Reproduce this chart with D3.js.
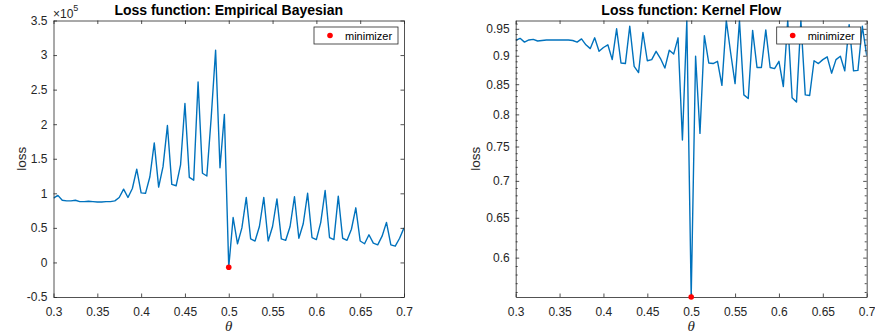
<!DOCTYPE html>
<html><head><meta charset="utf-8">
<script src="https://cdn.jsdelivr.net/npm/d3@7"></script>
<style>body{margin:0;background:#fff} svg{display:block}</style>
</head><body>
<svg id="c" width="875" height="334"></svg>
<script>
// ---- data ----
const theta = [0.3,0.305,0.31,0.315,0.32,0.325,0.33,0.335,0.34,0.345,0.35,0.355,0.36,0.365,0.37,0.375,0.38,0.385,0.39,0.395,
  0.4,0.405,0.41,0.415,0.42,0.425,0.43,0.435,0.44,0.445,0.45,0.455,0.46,0.465,0.47,0.475,0.48,0.485,0.49,0.495,
  0.5,0.505,0.51,0.515,0.52,0.525,0.53,0.535,0.54,0.545,0.55,0.555,0.56,0.565,0.57,0.575,0.58,0.585,0.59,0.595,
  0.6,0.605,0.61,0.615,0.62,0.625,0.63,0.635,0.64,0.645,0.65,0.655,0.66,0.665,0.67,0.675,0.68,0.685,0.69,0.695,0.7];
// Empirical Bayesian loss, in units of 1e5
const ebLoss = [0.93,0.97,0.90,0.89,0.89,0.90,0.88,0.88,0.885,0.88,0.875,0.875,0.88,0.88,0.89,0.94,1.06,0.94,1.07,1.35,
  1.006,1.0,1.24,1.73,1.09,1.385,1.98,1.13,1.11,1.41,2.30,1.23,1.19,2.61,1.29,1.25,2.1,3.07,1.37,2.14,
  -0.07,0.65,0.27,0.50,0.94,0.34,0.31,0.52,0.94,0.31,0.52,0.92,0.34,0.32,0.52,0.95,0.35,0.56,1.0,0.36,
  0.33,0.58,1.04,0.36,0.33,0.96,0.35,0.32,0.48,0.79,0.31,0.27,0.40,0.28,0.255,0.38,0.58,0.255,0.235,0.35,0.50];
// Kernel Flow loss
const kfLoss = [0.928,0.932,0.925,0.929,0.930,0.927,0.928,0.929,0.929,0.929,0.929,0.929,0.929,0.928,0.925,0.931,0.920,0.913,0.933,0.908,
  0.915,0.920,0.893,0.950,0.887,0.886,0.955,0.881,0.870,0.943,0.891,0.893,0.908,0.895,0.878,0.910,0.903,0.933,0.760,0.966,
  0.5544,0.899,0.770,0.937,0.887,0.886,0.890,0.848,0.966,0.905,0.851,0.966,0.832,0.826,0.947,0.879,0.879,0.948,0.879,0.877,
  0.890,0.846,0.966,0.827,0.820,0.966,0.832,0.831,0.891,0.886,0.893,0.898,0.869,0.893,0.899,0.873,0.958,0.873,0.874,0.955,0.90];
const xTicks = [0.3,0.35,0.4,0.45,0.5,0.55,0.6,0.65,0.7];
const ebTicks = [-0.5,0,0.5,1,1.5,2,2.5,3,3.5];
const kfTicks = [0.6,0.65,0.7,0.75,0.8,0.85,0.9,0.95];
const kfMinor = [0.56,0.57,0.58,0.59,0.61,0.62,0.63,0.64,0.66,0.67,0.68,0.69,0.71,0.72,0.73,0.74,0.76,0.77,0.78,0.79,0.81,0.82,0.83,0.84,0.86,0.87,0.88,0.89,0.91,0.92,0.93,0.94,0.96];
const ebMin = {x:0.5, y:-0.07};
const kfMin = {x:0.5, y:0.5544};

// ---- drawing ----
const svg = d3.select('#c');
const AX = '#262626', LINE = '#0072BD';
const FONT = 'Liberation Sans, Arial, Helvetica, sans-serif';

function panel(o) {
  const g = svg.append('g');
  const x = d3.scaleLinear().domain([0.3,0.7]).range([o.left, o.right]);
  const y = o.yScale.range([o.bottom, o.top]);
  const id = 'clip' + o.key;
  svg.append('clipPath').attr('id', id).append('rect')
    .attr('x', o.left).attr('y', o.top).attr('width', o.right-o.left).attr('height', o.bottom-o.top);

  // line
  g.append('path').datum(theta.map((t,i)=>[t,o.data[i]]))
    .attr('clip-path', `url(#${id})`)
    .attr('fill','none').attr('stroke', LINE).attr('stroke-width',1.4).attr('stroke-linejoin','round')
    .attr('d', d3.line().x(d=>x(d[0])).y(d=>y(d[1])));

  // axes
  const TL = 3.5;
  const styleAxis = sel => {
    sel.selectAll('.domain').attr('stroke', AX).attr('stroke-width',0.8);
    sel.selectAll('.tick line').attr('stroke', AX).attr('stroke-width',0.8);
    sel.selectAll('text').attr('fill', AX).attr('font-family', FONT).attr('font-size', 12);
  };
  const fmt = d => String(d);
  g.append('g').attr('transform',`translate(0,${o.bottom})`)
    .call(d3.axisBottom(x).tickValues(xTicks).tickSize(-TL).tickPadding(10).tickFormat(fmt).tickSizeOuter(0)).call(styleAxis);
  g.append('g').attr('transform',`translate(0,${o.top})`)
    .call(d3.axisTop(x).tickValues(xTicks).tickSize(-TL).tickFormat('').tickSizeOuter(0)).call(styleAxis);
  g.append('g').attr('transform',`translate(${o.left},0)`)
    .call(d3.axisLeft(y).tickValues(o.yTicks).tickSize(-TL).tickPadding(6).tickFormat(fmt).tickSizeOuter(0)).call(styleAxis);
  g.append('g').attr('transform',`translate(${o.right},0)`)
    .call(d3.axisRight(y).tickValues(o.yTicks).tickSize(-TL).tickFormat('').tickSizeOuter(0)).call(styleAxis);
  if (o.minor) {
    g.append('g').attr('transform',`translate(${o.left},0)`)
      .call(d3.axisLeft(y).tickValues(o.minor).tickSize(-2).tickFormat('').tickSizeOuter(0)).call(styleAxis)
      .select('.domain').remove();
    g.append('g').attr('transform',`translate(${o.right},0)`)
      .call(d3.axisRight(y).tickValues(o.minor).tickSize(-2).tickFormat('').tickSizeOuter(0)).call(styleAxis)
      .select('.domain').remove();
  }

  // title
  g.append('text').attr('x', (o.left+o.right)/2).attr('y', 15).attr('text-anchor','middle')
    .attr('font-family', FONT).attr('font-weight','bold').attr('font-size',14).attr('fill','#000').text(o.title);
  // y label
  g.append('text').attr('transform',`translate(${o.ylabX},${(o.top+o.bottom)/2}) rotate(-90)`)
    .attr('text-anchor','middle').attr('font-family', FONT).attr('font-size',13.5).attr('fill', AX).text('loss');
  // x label
  g.append('text').attr('x', (o.left+o.right)/2).attr('y', 331).attr('text-anchor','middle')
    .attr('font-family','Liberation Serif, DejaVu Serif, serif').attr('font-style','italic').attr('font-size',15).attr('fill', AX).text('θ');

  // minimizer
  g.append('circle').attr('cx', x(o.min.x)).attr('cy', y(o.min.y)).attr('r',2.8).attr('fill','#ff0000');

  // legend
  const lg = g.append('g').attr('transform',`translate(${o.right-90},${o.top+6.5})`);
  lg.append('rect').attr('x',0).attr('y',0).attr('width',84).attr('height',17)
    .attr('fill','#fff').attr('stroke', AX).attr('stroke-width',0.8);
  lg.append('circle').attr('cx',16).attr('cy',8.5).attr('r',2.8).attr('fill','#ff0000');
  lg.append('text').attr('x',31).attr('y',12.5).attr('font-family',FONT).attr('font-size',11).attr('fill','#000').text('minimizer');
  return {g, x, y};
}

const p1 = panel({key:'a', left:53.5, right:404, top:20.5, bottom:297, yScale:d3.scaleLinear().domain([-0.5,3.5]),
  data: ebLoss, yTicks: ebTicks, title:'Loss function: Empirical Bayesian', ylabX:26, min: ebMin});
// exponent label
const ex = p1.g.append('text').attr('x',53).attr('y',18).attr('font-family',FONT).attr('font-size',12).attr('fill',AX);
ex.append('tspan').text('×10');
ex.append('tspan').attr('dy',-7).attr('font-size',9).text('5');

panel({key:'b', left:515.7, right:866.7, top:20.5, bottom:297, yScale:d3.scaleLog().domain([0.5544,0.966]),
  data: kfLoss, yTicks: kfTicks, minor: kfMinor, title:'Loss function: Kernel Flow', ylabX:480, min: kfMin});
</script>
</body></html>
